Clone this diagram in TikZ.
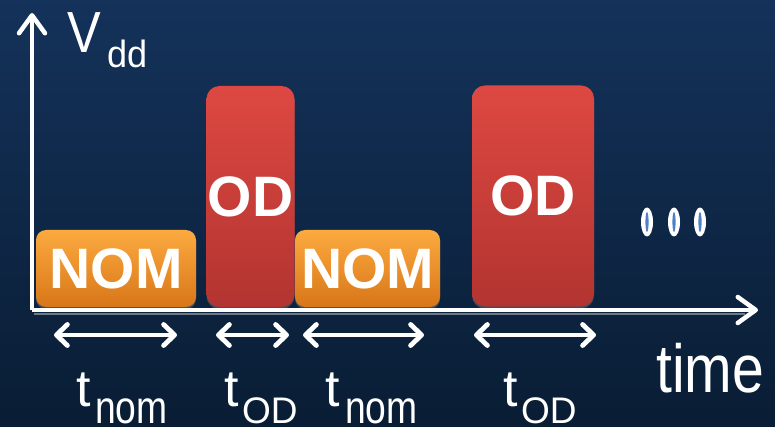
\documentclass[tikz,border=0pt]{standalone}
\usepackage{fontspec}
\setmainfont{Liberation Sans}
\usetikzlibrary{arrows.meta,shadows}

\definecolor{bgtop}{RGB}{20,50,90}
\definecolor{bgbot}{RGB}{9,29,52}
\definecolor{nomtop}{RGB}{252,170,64}
\definecolor{nombot}{RGB}{216,118,24}
\definecolor{odtop}{RGB}{222,72,66}
\definecolor{odbot}{RGB}{178,52,48}
\definecolor{dotblue}{RGB}{78,128,200}

\begin{document}
\begin{tikzpicture}[x=1pt,y=-1pt,
  axisline/.style={white,line width=3.5pt,
    -{Straight Barb[length=18pt,width=26pt,round,line width=4.5pt]}},
  span/.style={white,line width=4.2pt,
    {Straight Barb[length=11pt,width=21pt,round,line width=4.8pt]}-{Straight Barb[length=11pt,width=21pt,round,line width=4.8pt]}},
  block/.style={draw=none,inner sep=0pt,text=white,
    font=\fontsize{57}{57}\selectfont\bfseries,
    drop shadow={opacity=0.45,shadow xshift=0pt,shadow yshift=-2pt}},
  nombox/.style={block,rounded corners=10pt,top color=nomtop,bottom color=nombot,
    minimum height=77pt},
  odbox/.style={block,rounded corners=13pt,top color=odtop,bottom color=odbot,
    minimum height=221pt},
  lbl/.style={text=white,inner sep=0pt,anchor=base west},
  big/.style={lbl,font=\fontsize{52}{52}\selectfont},
  sub/.style={lbl,font=\fontsize{37}{37}\selectfont},
  subn/.style={lbl,font=\fontsize{46}{46}\selectfont},
]
% background
\shade[top color=bgtop,bottom color=bgbot] (0,0) rectangle (775,427);
\useasboundingbox (0,0) rectangle (775,427);

% blocks
\node[nombox,minimum width=160pt] (nom1) at (116,268.5) {NOM};
\node[odbox,minimum width=88pt]  (od1)  at (250.5,196.5) {OD};
\node[nombox,minimum width=145pt] (nom2) at (367.5,268.5) {NOM};
\node[odbox,minimum width=122pt] (od2)  at (533,196) {OD};

% axes
\coordinate (origin) at (32,310);
\coordinate (ytip) at (32,13);
\coordinate (xtip) at (758,310);
\draw[gray!60,line width=2pt,opacity=0.6] (34,313.5) -- (745,313.5);
\draw[axisline] (origin) -- (ytip);
\draw[axisline] (origin) -- (xtip);

% axis labels
\node[lbl,font=\fontsize{58}{58}\selectfont] (vlbl) at (67,53) {\scalebox{0.87}[1]{V}};
\node[lbl,font=\fontsize{38}{38}\selectfont] (vsub) at (107,68) {\scalebox{0.95}[1]{dd}};
\node[lbl,font=\fontsize{68}{68}\selectfont] (time) at (656,392) {\scalebox{0.84}[1]{time}};

% ellipsis
\foreach \cx [count=\i] in {647,674,700}{
  \fill[white] (\cx,222) ellipse [x radius=6pt,y radius=14.5pt];
  \fill[dotblue] (\cx,222) ellipse [x radius=1.6pt,y radius=10pt];
}

% interval arrows
\coordinate (a1) at (54,335);  \coordinate (b1) at (177,335);
\coordinate (a2) at (216,335); \coordinate (b2) at (289,335);
\coordinate (a3) at (303,335); \coordinate (b3) at (424,335);
\coordinate (a4) at (474,335); \coordinate (b4) at (596,335);
\draw[span] (a1) -- (b1);
\draw[span] (a2) -- (b2);
\draw[span] (a3) -- (b3);
\draw[span] (a4) -- (b4);

% interval labels
\node[big] (t1) at (76,406) {t};
\node[subn] (s1) at (95,423) {\scalebox{0.81}[1]{nom}};
\node[big] (t2) at (224,406) {t};
\node[sub] (s2) at (242,423) {OD};
\node[big] (t3) at (325,406) {t};
\node[subn] (s3) at (345,423) {\scalebox{0.81}[1]{nom}};
\node[big] (t4) at (503,406) {t};
\node[sub] (s4) at (521,423) {OD};
\end{tikzpicture}
\end{document}
